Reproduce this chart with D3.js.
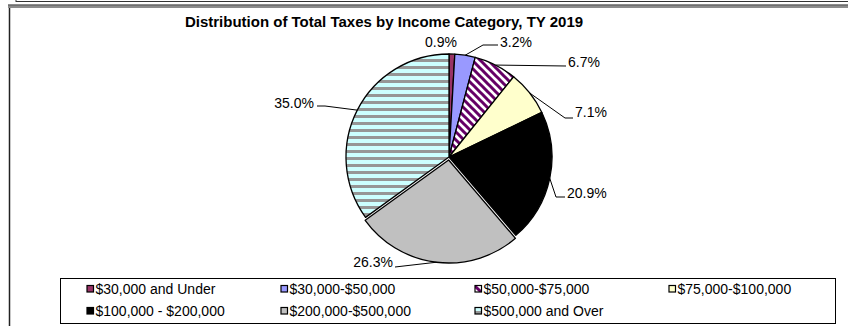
<!DOCTYPE html>
<html>
<head>
<meta charset="utf-8">
<script src="https://cdn.jsdelivr.net/npm/d3@7"></script>
<style>
  html, body { margin: 0; padding: 0; background: #fff; }
  svg { display: block; font-family: "Liberation Sans", Arial, sans-serif; }
</style>
</head>
<body>
<svg id="chart" width="848" height="326"></svg>
<script>
// Income categories and their share of total taxes (percent)
const categories = [
  "$30,000 and Under",
  "$30,000-$50,000",
  "$50,000-$75,000",
  "$75,000-$100,000",
  "$100,000 - $200,000",
  "$200,000-$500,000",
  "$500,000 and Over"
];
const shares = [0.9, 3.2, 6.7, 7.1, 20.9, 26.3, 35.0];
const shareLabels = ["0.9%", "3.2%", "6.7%", "7.1%", "20.9%", "26.3%", "35.0%"];
const title = "Distribution of Total Taxes by Income Category, TY 2019";

// Fills: plain colours or pattern ids
const fills = ["#993366", "#9999FF", "url(#diag)", "#FFFFCC", "#000000", "#C0C0C0", "url(#hstripe)"];
// The $200k-$500k slice is pulled out slightly
const explode = [0, 0, 0, 0, 0, 3, 0];

// Label placement relative to the pie centre: elbow points and text anchor
const labelLayout = [
  { path: [], tx: -24, ty: -110, anchor: "start" },
  { path: [[34, -112], [49, -112]], tx: 51, ty: -110, anchor: "start" },
  { path: [[117, -91]], tx: 119, ty: -90, anchor: "start" },
  { path: [[116, -39], [124, -39]], tx: 126, ty: -40, anchor: "start" },
  { path: [[107, 40], [116, 40]], tx: 118, ty: 41, anchor: "start" },
  { path: [[-54, 110]], tx: -56, ty: 110, anchor: "end" },
  { path: [[-124, -51], [-132, -51]], tx: -135, ty: -49, anchor: "end" }
];

const svg = d3.select("#chart");
const W = 848, H = 326;

// Patterns
const defs = svg.append("defs");
const diag = defs.append("pattern").attr("id", "diag")
  .attr("patternUnits", "userSpaceOnUse").attr("width", 8).attr("height", 8);
diag.append("rect").attr("width", 8).attr("height", 8).attr("fill", "#fff");
diag.append("path").attr("d", "M-4,-4 L12,12 M-4,4 L4,12 M4,-4 L12,4")
  .attr("stroke", "#660066").attr("stroke-width", 3);

const hs = defs.append("pattern").attr("id", "hstripe")
  .attr("patternUnits", "userSpaceOnUse").attr("width", 8).attr("height", 7);
hs.append("rect").attr("width", 8).attr("height", 7).attr("fill", "#CCFFFF");
hs.append("rect").attr("y", 0).attr("width", 8).attr("height", 3).attr("fill", "#969696");

// Frame lines along the top and left
svg.append("line").attr("x1", 16).attr("x2", W).attr("y1", 1.5).attr("y2", 1.5)
  .attr("stroke", "#333").attr("stroke-width", 1);
svg.append("line").attr("x1", 16).attr("x2", 16).attr("y1", 0).attr("y2", 2)
  .attr("stroke", "#333").attr("stroke-width", 1);
svg.append("rect").attr("x", 8).attr("y", 4.5).attr("width", W - 8).attr("height", 3.5)
  .attr("fill", "#8c8c8c");
svg.append("line").attr("x1", 8).attr("x2", W).attr("y1", 5).attr("y2", 5)
  .attr("stroke", "#555").attr("stroke-width", 1);
svg.append("line").attr("x1", 9.5).attr("x2", 9.5).attr("y1", 8).attr("y2", H)
  .attr("stroke", "#222").attr("stroke-width", 1.5);

// Title
svg.append("text").attr("x", 384).attr("y", 27).attr("text-anchor", "middle")
  .attr("font-weight", "bold").attr("font-size", 15).attr("fill", "#000")
  .text(title);

// Pie
const cx = 449, cy = 157, R = 103;
const pie = d3.pie().sort(null).value(d => d)(shares);
const arc = d3.arc().innerRadius(0).outerRadius(R);
const g = svg.append("g").attr("transform", `translate(${cx},${cy})`);

g.selectAll("path.slice").data(pie).join("path")
  .attr("class", "slice")
  .attr("transform", (d, i) => {
    const a = (d.startAngle + d.endAngle) / 2;
    return `translate(${explode[i] * Math.sin(a)},${-explode[i] * Math.cos(a)})`;
  })
  .attr("d", arc)
  .attr("fill", (d, i) => fills[i])
  .attr("stroke", "#000").attr("stroke-width", 1.3).attr("stroke-linejoin", "round");

// Leader lines and value labels
pie.forEach((d, i) => {
  const a = (d.startAngle + d.endAngle) / 2;
  const r = R + explode[i];
  const start = [r * Math.sin(a), -r * Math.cos(a)];
  const L = labelLayout[i];
  if (L.path.length) {
    g.append("path")
      .attr("d", d3.line()([start, ...L.path]))
      .attr("fill", "none").attr("stroke", "#000").attr("stroke-width", 1);
  }
  g.append("text").attr("x", L.tx).attr("y", L.ty).attr("text-anchor", L.anchor)
    .attr("font-size", 14).attr("fill", "#000").text(shareLabels[i]);
});

// Legend
const lx = 60, ly = 278, lw = 775, lh = 45;
svg.append("rect").attr("x", lx + 0.5).attr("y", ly + 0.5).attr("width", lw).attr("height", lh)
  .attr("fill", "#fff").attr("stroke", "#000").attr("stroke-width", 1);
const colX = d3.scalePoint().domain(d3.range(4)).range([90, 672]);
const rowY = d3.scalePoint().domain([0, 1]).range([289, 311]);
const items = svg.append("g").selectAll("g").data(categories).join("g")
  .attr("transform", (d, i) => `translate(${colX(i % 4)},${rowY(Math.floor(i / 4))})`);
items.append("rect").attr("x", -3).attr("y", -3.5).attr("width", 6.5).attr("height", 6.5)
  .attr("fill", (d, i) => fills[i]).attr("stroke", "#000").attr("stroke-width", 1.2);
items.append("text").attr("x", 5.5).attr("y", 5).attr("font-size", 14).attr("fill", "#000")
  .text(d => d);
</script>
</body>
</html>
